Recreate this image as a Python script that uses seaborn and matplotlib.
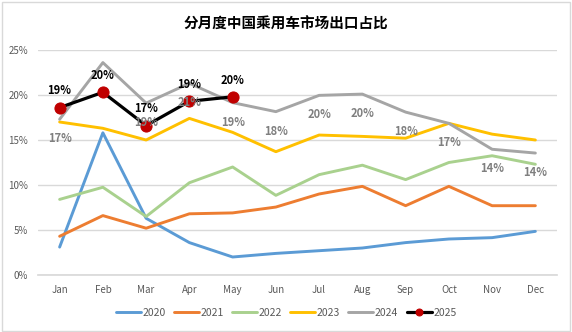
import matplotlib
matplotlib.use("Agg")
import matplotlib.pyplot as plt
import seaborn as sns
import pandas as pd
from matplotlib.patches import Rectangle
from matplotlib.ticker import FuncFormatter

months = ["Jan", "Feb", "Mar", "Apr", "May", "Jun", "Jul", "Aug", "Sep", "Oct", "Nov", "Dec"]
s2020 = [3.1, 15.8, 6.3, 3.6, 2.0, 2.4, 2.7, 3.0, 3.6, 4.0, 4.15, 4.85]
s2021 = [4.3, 6.6, 5.2, 6.8, 6.9, 7.55, 9.0, 9.85, 7.7, 9.85, 7.7, 7.7]
s2022 = [8.4, 9.75, 6.5, 10.25, 12.0, 8.85, 11.15, 12.2, 10.6, 12.5, 13.25, 12.3]
s2023 = [17.0, 16.3, 15.0, 17.4, 15.85, 13.7, 15.55, 15.4, 15.2, 16.85, 15.65, 15.0]
s2024 = [17.3, 23.6, 19.1, 21.3, 19.15, 18.15, 19.96, 20.1, 18.1, 16.85, 13.97, 13.55]
s2025 = [18.6, 20.3, 16.6, 19.3, 19.8]
title = "分月度中国乘用车市场出口占比"

sns.set_theme(style="white")
plt.rcParams['font.family'] = ['Noto Sans CJK SC', 'DejaVu Sans']

fig = plt.figure(figsize=(5.72, 3.32), dpi=100)
ax = fig.add_axes([38/572, 1-275/332, (557-38)/572, (275-50)/332])

colors = {"2020": "#5B9BD5", "2021": "#ED7D31", "2022": "#A9D18E",
          "2023": "#FFC000", "2024": "#A5A5A5"}
series = {"2020": s2020, "2021": s2021, "2022": s2022, "2023": s2023, "2024": s2024}

for name, vals in series.items():
    df = pd.DataFrame({"x": range(len(vals)), "y": vals})
    sns.lineplot(data=df, x="x", y="y", ax=ax, color=colors[name], lw=2.1,
                 label=name, sort=False)

df25 = pd.DataFrame({"x": range(len(s2025)), "y": s2025})
sns.lineplot(data=df25, x="x", y="y", ax=ax, color="black", lw=2.3, label="2025",
             marker="o", markersize=8, markerfacecolor="#C00000",
             markeredgecolor="#C00000", sort=False)

# 2024 labels (below points), skip Feb
for i, v in enumerate(s2024):
    if i == 1:
        continue
    ax.annotate(f"{round(v):.0f}%", (i, v), xytext=(0, -14), textcoords="offset points",
                ha="center", va="center", fontsize=8, color="#7F7F7F", fontweight="bold")
# 2025 labels (above points)
for i, v in enumerate(s2025):
    ax.annotate(f"{round(v):.0f}%", (i, v), xytext=(0, 12), textcoords="offset points",
                ha="center", va="center", fontsize=8, color="black", fontweight="bold")

ax.set_xlim(-0.5, 11.5)
ax.set_ylim(0, 25)
ax.set_yticks([0, 5, 10, 15, 20, 25])
ax.yaxis.set_major_formatter(FuncFormatter(lambda v, p: f"{v:.0f}%"))
ax.set_xticks(range(12))
ax.set_xticklabels(months)
ax.set_xlabel("")
ax.set_ylabel("")
ax.tick_params(axis="both", labelsize=7, colors="#595959", length=0, pad=7)
ax.grid(axis="y", color="#D9D9D9", lw=1)
for s in ["top", "right", "left"]:
    ax.spines[s].set_visible(False)
ax.spines["bottom"].set_color("#D9D9D9")
ax.set_axisbelow(True)

ax.get_legend().remove()
handles, labels = ax.get_legend_handles_labels()
leg = fig.legend(handles, labels, loc="center", bbox_to_anchor=(0.5, 1-313/332), ncol=6,
                 frameon=False, fontsize=7.5, handlelength=2.4, handletextpad=0.15,
                 columnspacing=0.8, labelcolor="#595959")
leg.legend_handles[-1].set_markersize(5)

fig.text(0.5, 1-24/332, title, ha="center", va="center", fontsize=10.5,
         fontweight="bold", color="black")

fig.patches.append(Rectangle((0.003, 0.004), 0.994, 0.99, transform=fig.transFigure,
                             fill=False, edgecolor="#D9D9D9", lw=1))

fig.savefig("out.png", dpi=100)
